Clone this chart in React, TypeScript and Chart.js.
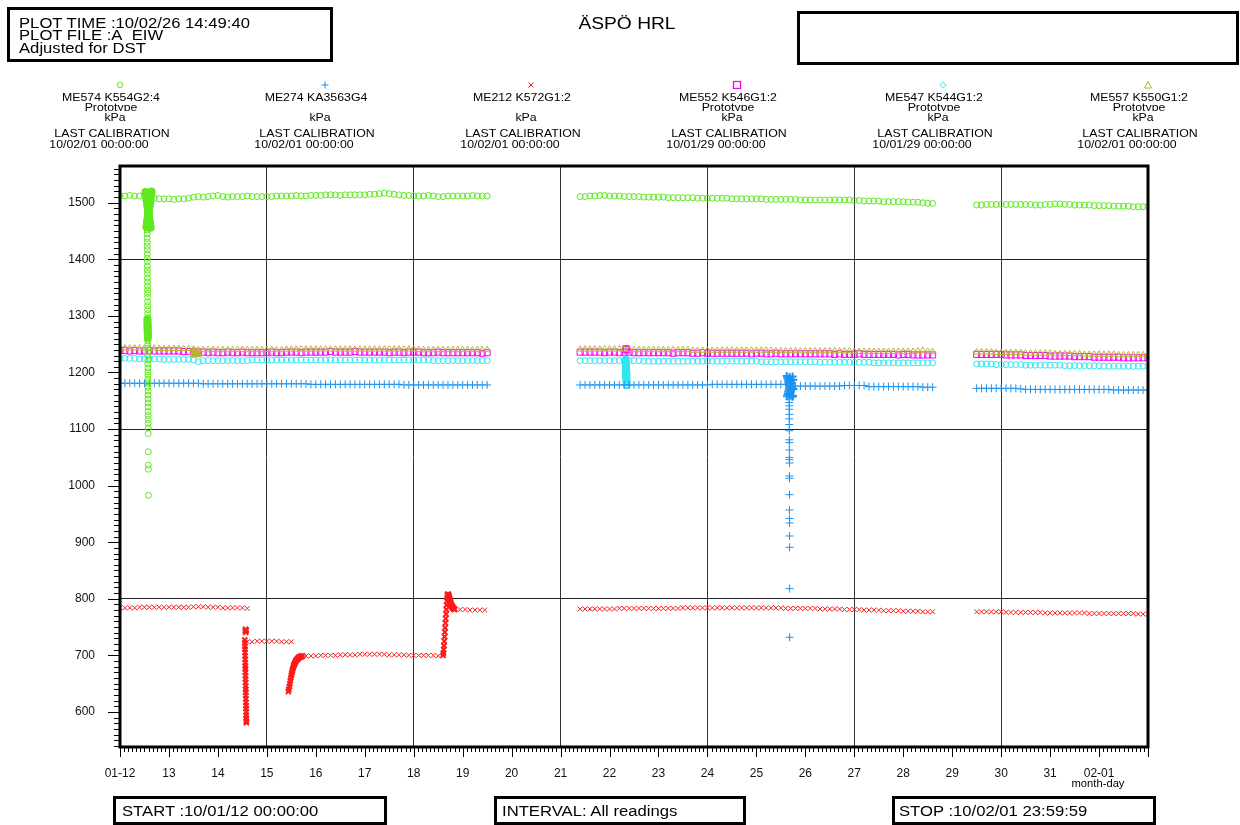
import React, { useEffect, useRef } from 'react';
import { Chart, registerables } from 'chart.js';

Chart.register(...registerables);

const FONT = '"Liberation Sans", Arial, Helvetica, sans-serif';

// ---------- axes (x = days after 10/01/12 00:00) ----------
const X_MIN = 0;
const X_MAX = 21;
const xTickDays = [0, 1, 2, 3, 4, 5, 6, 7, 8, 9, 10, 11, 12, 13, 14, 15, 16, 17, 18, 19, 20, 21];
const xTickLabels = ['01-12', '13', '14', '15', '16', '17', '18', '19', '20', '21', '22', '23', '24', '25', '26', '27', '28', '29', '30', '31', '02-01', ''];
const xGridDays = [3, 6, 9, 12, 15, 18];
const Y_MIN = 538;
const Y_MAX = 1565;
const yTickValues = [600, 700, 800, 900, 1000, 1100, 1200, 1300, 1400, 1500];
const yGridValues = [800, 1100, 1400];

// ---------- readings: segment start days and reading interval ----------
const STEP = 0.1;
const SEG_A = 0;
const SEG_B = 9.4;
const SEG_C = 17.5;

// ME574 K554G2:4 (green circles)
const greenSegA = [
  1512, 1512, 1513, 1512, 1512, 1514, 1513, 1508, 1507, 1507,
  1507, 1506, 1507, 1507, 1508, 1510, 1511, 1510, 1511, 1512,
  1513, 1511, 1510, 1511, 1511, 1511, 1512, 1511, 1511, 1511,
  1511, 1511, 1512, 1512, 1512, 1512, 1513, 1512, 1512, 1513,
  1513, 1513, 1514, 1514, 1514, 1513, 1514, 1514, 1514, 1514,
  1514, 1515, 1515, 1516, 1517, 1516, 1515, 1514, 1513, 1513,
  1512, 1512, 1512, 1513, 1512, 1511, 1511, 1512, 1512, 1512,
  1512, 1512, 1513, 1512, 1512, 1512,
];
const greenSpikeDown = [
  1519, 1516, 1513, 1510, 1507, 1504, 1501, 1498, 1495, 1492, 1489,
  1486, 1483, 1480, 1477, 1474, 1471, 1468, 1465, 1462, 1459, 1456,
];
const greenSpikeUp = [
  1457, 1460, 1463, 1466, 1469, 1472, 1475, 1478, 1481, 1484, 1487,
  1490, 1493, 1496, 1499, 1502, 1505, 1508, 1511, 1514, 1517, 1520,
];
const greenSpikeCluster = [1294, 1291, 1288, 1285, 1282, 1279, 1276, 1273, 1270, 1267, 1264, 1261];
const greenSpikeDrop = [
  1452, 1445, 1437, 1430, 1423, 1417, 1409, 1402, 1396, 1388, 1381, 1375, 1367, 1360, 1353, 1346,
  1340, 1333, 1325, 1318, 1311, 1304, 1297, 1256, 1249, 1243, 1236, 1229, 1222, 1215, 1208, 1201,
  1195, 1188, 1181, 1174, 1167, 1160, 1153, 1146, 1139, 1131, 1124, 1117, 1110, 1102, 1092, 1060,
  1036, 1029, 983,
];
const greenSegB = [
  1511, 1511, 1512, 1512, 1513, 1513, 1512, 1512, 1512, 1511,
  1511, 1511, 1511, 1510, 1510, 1510, 1510, 1510, 1509, 1509,
  1509, 1509, 1509, 1509, 1508, 1508, 1508, 1508, 1508, 1508,
  1508, 1507, 1507, 1507, 1507, 1507, 1507, 1507, 1506, 1506,
  1506, 1506, 1506, 1506, 1506, 1505, 1505, 1505, 1505, 1505,
  1505, 1505, 1505, 1505, 1505, 1505, 1504, 1504, 1503, 1503,
  1503, 1503, 1502, 1502, 1502, 1502, 1502, 1501, 1501, 1501,
  1500, 1499, 1499,
];
const greenSegC = [
  1496, 1496, 1497, 1497, 1497, 1497, 1497, 1497, 1497, 1497,
  1497, 1497, 1496, 1496, 1497, 1497, 1498, 1498, 1497, 1497,
  1496, 1496, 1496, 1496, 1495, 1495, 1495, 1495, 1494, 1494,
  1494, 1494, 1493, 1493, 1493, 1493,
];

// ME274 KA3563G4 (blue plus)
const blueSegA = [
  1181, 1181, 1181, 1181, 1181, 1181, 1181, 1181, 1181, 1181,
  1181, 1181, 1181, 1181, 1181, 1181, 1181, 1180, 1180, 1180,
  1180, 1180, 1180, 1180, 1180, 1180, 1180, 1180, 1180, 1180,
  1180, 1180, 1180, 1180, 1180, 1180, 1180, 1180, 1180, 1179,
  1179, 1179, 1179, 1179, 1179, 1179, 1179, 1179, 1179, 1179,
  1179, 1179, 1179, 1179, 1179, 1179, 1179, 1179, 1178, 1178,
  1178, 1178, 1178, 1178, 1178, 1178, 1178, 1178, 1178, 1178,
  1178, 1178, 1178, 1178, 1178, 1178,
];
const blueSegB = [
  1178, 1178, 1178, 1178, 1178, 1178, 1178, 1178, 1178, 1178,
  1178, 1178, 1178, 1178, 1178, 1178, 1178, 1178, 1178, 1178,
  1178, 1178, 1178, 1178, 1178, 1178, 1178, 1179, 1179, 1179,
  1179, 1179, 1179, 1179, 1179, 1179, 1179, 1179, 1179, 1179,
  1179, 1179, 1179, 1176, 1176, 1176, 1176, 1176, 1176, 1176,
  1176, 1176, 1176, 1176, 1177, 1177, 1177, 1177, 1177, 1175,
  1175, 1175, 1175, 1175, 1175, 1175, 1175, 1175, 1175, 1175,
  1174, 1174, 1174,
];
const blueSpikeCore = [
  1194, 1158, 1190, 1162, 1186, 1166, 1182, 1170, 1178, 1174, 1192, 1160,
  1188, 1164, 1184, 1168, 1180, 1172, 1176, 1157, 1193, 1159, 1187, 1171,
];
const blueSpikeTail = [
  1153, 1147, 1141, 1135, 1126, 1118, 1108, 1097, 1081, 1076, 1063, 1050,
  1046, 1040, 1017, 1013, 984, 957, 942, 934, 911, 891, 818, 732,
];
const blueSegC = [
  1172, 1172, 1172, 1172, 1172, 1172, 1172, 1172, 1172, 1171,
  1170, 1170, 1170, 1170, 1170, 1170, 1170, 1170, 1170, 1170,
  1170, 1170, 1170, 1170, 1170, 1170, 1170, 1170, 1169, 1169,
  1169, 1169, 1169, 1169, 1169, 1169,
];

// ME212 K572G1:2 (red x)
const redSegA = [
  784, 784, 784, 784, 785, 785, 785, 785, 785, 785,
  785, 785, 785, 785, 785, 786, 786, 786, 785, 785,
  785, 784, 784, 784, 784, 784, 783,
];
const redBlip = [743, 746, 741, 745, 744];
const redDrop = [
  727, 722, 716, 711, 705, 699, 693, 687, 681, 676, 670, 664, 658, 652,
  646, 640, 635, 629, 623, 617, 611, 606, 600, 594, 589, 584, 581,
];
const redStep = [724, 724, 725, 725, 725, 725, 725, 724, 724, 724];
const redRecovery = [
  636, 640, 645, 650, 655, 660, 665, 669, 673, 676, 679, 682, 684, 686, 688, 690,
  691, 692, 693, 694, 695, 696, 696, 697, 697, 698, 698, 698, 699, 699,
];
const redFlat = [
  699, 699, 699, 700, 700, 700, 700, 701, 701,
  701, 701, 702, 702, 702, 702, 702, 702, 701, 701,
  701, 701, 700, 700, 700, 700, 700, 700, 699,
];
const redSurge = [
  700, 704, 710, 717, 725, 733, 741, 749, 757, 765, 773, 781, 789, 796, 802, 806, 808, 808, 807, 806,
  804, 802, 800, 798, 796, 794, 792, 790, 789, 788, 787, 786, 785, 784, 784, 783, 783, 782, 782, 781,
];
const redSettle = [781, 781, 780, 780, 780, 780];
const redSegB = [
  782, 782, 782, 782, 782, 782, 782, 782, 783, 783,
  783, 783, 783, 783, 783, 783, 783, 783, 783, 783,
  783, 784, 784, 784, 784, 784, 784, 784, 784, 784,
  784, 784, 784, 784, 784, 784, 784, 784, 784, 784,
  784, 784, 783, 783, 783, 783, 783, 783, 783, 782,
  782, 782, 782, 782, 781, 781, 781, 781, 780, 780,
  780, 780, 779, 779, 779, 779, 778, 778, 778, 778,
  777, 777, 777,
];
const redSegC = [
  777, 777, 777, 777, 777, 777, 776, 776, 776, 776,
  776, 776, 776, 776, 775, 775, 775, 775, 775, 775,
  775, 775, 775, 774, 774, 774, 774, 774, 774, 774,
  774, 774, 774, 773, 773, 773,
];

// ME547 K544G1:2 (cyan)
const cyanSegA = [
  1225, 1225, 1225, 1225, 1224, 1224, 1224, 1224, 1224, 1223,
  1223, 1223, 1223, 1223, 1223, 1222, 1219, 1221, 1221, 1221,
  1221, 1221, 1221, 1221, 1221, 1221, 1221, 1222, 1222, 1222,
  1222, 1222, 1222, 1222, 1222, 1222, 1222, 1222, 1222, 1222,
  1222, 1222, 1222, 1222, 1222, 1222, 1222, 1222, 1222, 1222,
  1222, 1222, 1222, 1222, 1222, 1222, 1222, 1222, 1222, 1222,
  1222, 1222, 1222, 1222, 1221, 1221, 1221, 1221, 1221, 1221,
  1221, 1221, 1221, 1221, 1221, 1221,
];
const cyanSegB = [
  1221, 1221, 1221, 1221, 1221, 1221, 1221, 1221, 1221, 1221,
  1221, 1221, 1221, 1220, 1220, 1220, 1220, 1220, 1220, 1220,
  1220, 1220, 1220, 1220, 1220, 1220, 1220, 1220, 1220, 1220,
  1220, 1220, 1220, 1220, 1220, 1220, 1220, 1219, 1219, 1219,
  1219, 1219, 1219, 1219, 1219, 1219, 1219, 1219, 1219, 1218,
  1218, 1218, 1218, 1218, 1218, 1218, 1218, 1218, 1218, 1218,
  1217, 1217, 1217, 1217, 1217, 1217, 1217, 1217, 1217, 1217,
  1217, 1217, 1217,
];
const cyanSpike = [1223, 1220, 1217, 1214, 1211, 1208, 1205, 1202, 1199, 1196, 1193, 1190, 1194, 1198, 1187, 1183, 1178];
const cyanSegC = [
  1215, 1215, 1215, 1215, 1214, 1214, 1214, 1214, 1214, 1214,
  1213, 1213, 1213, 1213, 1213, 1213, 1213, 1213, 1212, 1212,
  1212, 1212, 1212, 1212, 1212, 1212, 1211, 1211, 1211, 1211,
  1211, 1211, 1211, 1211, 1211, 1211,
];

// ME552 K546G1:2 (magenta squares)
const magentaSegA = [
  1239, 1239, 1238, 1239, 1238, 1238, 1239, 1238, 1238, 1238,
  1238, 1238, 1238, 1237, 1237, 1237, 1236, 1236, 1235, 1236,
  1235, 1235, 1236, 1235, 1235, 1236, 1235, 1235, 1235, 1235,
  1235, 1236, 1235, 1235, 1236, 1236, 1236, 1235, 1236, 1236,
  1236, 1236, 1236, 1237, 1236, 1236, 1236, 1236, 1237, 1236,
  1236, 1236, 1236, 1236, 1236, 1235, 1236, 1236, 1235, 1236,
  1236, 1236, 1235, 1235, 1235, 1236, 1235, 1235, 1235, 1235,
  1235, 1235, 1235, 1235, 1234, 1235,
];
const magentaSegB = [
  1236, 1236, 1236, 1236, 1236, 1235, 1236, 1236, 1235, 1236,
  1236, 1235, 1235, 1235, 1235, 1235, 1235, 1235, 1235, 1234,
  1235, 1235, 1235, 1234, 1234, 1235, 1234, 1234, 1234, 1234,
  1234, 1234, 1234, 1234, 1234, 1233, 1234, 1234, 1233, 1233,
  1234, 1233, 1233, 1233, 1233, 1233, 1233, 1233, 1233, 1233,
  1233, 1233, 1232, 1233, 1232, 1232, 1232, 1233, 1232, 1232,
  1232, 1232, 1232, 1232, 1232, 1231, 1232, 1232, 1231, 1231,
  1231, 1231, 1231,
];
const magentaSpike = [1241, 1242, 1240];
const magentaSegC = [
  1232, 1232, 1232, 1232, 1232, 1232, 1231, 1231, 1231, 1231,
  1230, 1230, 1230, 1230, 1230, 1229, 1229, 1229, 1229, 1229,
  1228, 1228, 1228, 1228, 1227, 1227, 1227, 1227, 1227, 1227,
  1226, 1226, 1226, 1226, 1226, 1226,
];

// ME557 K550G1:2 (olive triangles)
const oliveSegA = [
  1243, 1243, 1243, 1243, 1243, 1243, 1243, 1243, 1242, 1242,
  1242, 1242, 1242, 1242, 1242, 1241, 1240, 1240, 1240, 1240,
  1240, 1240, 1240, 1240, 1240, 1240, 1240, 1240, 1240, 1240,
  1240, 1240, 1240, 1240, 1241, 1241, 1241, 1241, 1241, 1241,
  1241, 1241, 1241, 1241, 1241, 1241, 1241, 1241, 1241, 1241,
  1241, 1241, 1241, 1241, 1241, 1241, 1241, 1241, 1241, 1241,
  1241, 1240, 1240, 1240, 1240, 1240, 1240, 1240, 1240, 1240,
  1240, 1240, 1240, 1240, 1240, 1240,
];
const oliveCluster = [1236, 1234, 1233, 1235, 1234, 1233, 1232, 1235];
const oliveSegB = [
  1241, 1241, 1241, 1241, 1241, 1241, 1241, 1241, 1241, 1241,
  1240, 1240, 1240, 1240, 1240, 1240, 1240, 1240, 1240, 1240,
  1240, 1240, 1240, 1239, 1239, 1239, 1239, 1239, 1239, 1239,
  1239, 1239, 1239, 1239, 1239, 1239, 1239, 1239, 1239, 1239,
  1238, 1238, 1238, 1238, 1238, 1238, 1238, 1238, 1238, 1238,
  1238, 1238, 1238, 1238, 1238, 1238, 1237, 1237, 1237, 1237,
  1237, 1237, 1237, 1237, 1237, 1237, 1237, 1237, 1237, 1238,
  1239, 1237, 1237,
];
const oliveSegC = [
  1236, 1236, 1236, 1236, 1235, 1235, 1235, 1235, 1235, 1235,
  1234, 1234, 1234, 1234, 1234, 1234, 1233, 1233, 1233, 1233,
  1233, 1233, 1232, 1232, 1232, 1232, 1232, 1232, 1232, 1231,
  1231, 1231, 1231, 1231, 1231, 1231,
];

// ---------- legend texts ----------
const legendNames = ['ME574 K554G2:4', 'ME274 KA3563G4', 'ME212 K572G1:2', 'ME552 K546G1:2', 'ME547 K544G1:2', 'ME557 K550G1:2'];
const legendPrototype = [true, false, false, true, true, true];
const legendUnit = 'kPa';
const legendCalibration = ['10/02/01 00:00:00', '10/02/01 00:00:00', '10/02/01 00:00:00', '10/01/29 00:00:00', '10/01/29 00:00:00', '10/02/01 00:00:00'];

// ---------- helpers ----------
type P = { x: number; y: number };
function pts(t0: number, dt: number, values: number[]): P[] {
  return values.map((v, i) => ({ x: t0 + i * dt, y: v }));
}

const GREEN = '#5fe81e';
const BLUE = '#1c92f0';
const RED = '#ff1a1a';
const CYAN = '#2ee6f2';
const MAGENTA = '#ff00ff';
const OLIVE = '#b8b52a';

function ds(label: string, color: string, style: string, radius: number, width: number, data: P[]) {
  return {
    label,
    data,
    showLine: false,
    pointStyle: style,
    pointRadius: radius,
    pointBorderWidth: width,
    pointBorderColor: color,
    pointBackgroundColor: 'rgba(0,0,0,0)',
    borderColor: color,
    backgroundColor: 'rgba(0,0,0,0)',
  };
}

const framePlugin = {
  id: 'frameTicks',
  afterDraw(chart: any) {
    const { ctx, chartArea: a, scales } = chart;
    const xs = scales.x;
    const ys = scales.y;
    ctx.save();
    ctx.strokeStyle = '#000';
    ctx.lineWidth = 1;
    ctx.beginPath();
    for (let k = 0; k <= X_MAX * 12; k++) {
      const x = Math.round(xs.getPixelForValue(k / 12)) + 0.5;
      const len = k % 12 === 0 ? 10 : 5;
      ctx.moveTo(x, a.bottom);
      ctx.lineTo(x, a.bottom + len);
    }
    for (let v = 540; v <= 1560; v += 10) {
      const y = Math.round(ys.getPixelForValue(v)) + 0.5;
      const len = v % 100 === 0 ? 12 : 6;
      ctx.moveTo(a.left - len, y);
      ctx.lineTo(a.left, y);
    }
    ctx.stroke();
    ctx.lineWidth = 3;
    ctx.strokeRect(a.left, a.top, a.right - a.left, a.bottom - a.top);
    ctx.restore();
  },
};

function Txt(props: { x: number; y: number; size: number; sx: number; align?: 'center' | 'left'; clip?: number; children: any }) {
  const { x, y, size, sx, align = 'center', clip, children } = props;
  const style: React.CSSProperties = {
    position: 'absolute',
    left: x,
    top: y - size / 2,
    fontSize: size,
    lineHeight: `${size}px`,
    whiteSpace: 'nowrap',
    color: '#000',
    transform: align === 'center' ? `translateX(-50%) scaleX(${sx})` : `scaleX(${sx})`,
    transformOrigin: align === 'center' ? 'center center' : 'left center',
  };
  if (clip !== undefined) {
    style.height = clip;
    style.overflow = 'hidden';
  }
  return <div style={style}>{children}</div>;
}

function Box(props: { left: number; top: number; width: number; height: number }) {
  return (
    <div
      style={{
        position: 'absolute',
        left: props.left,
        top: props.top,
        width: props.width,
        height: props.height,
        border: '3px solid #000',
        boxSizing: 'border-box',
      }}
    />
  );
}

function Marker({ kind, x, y }: { kind: number; x: number; y: number }) {
  const s = 10;
  let shape: any = null;
  if (kind === 0) shape = <circle cx={5} cy={5} r={2.8} fill="none" stroke={GREEN} strokeWidth={1} />;
  if (kind === 1) shape = <path d="M5 1.5 V8.5 M1.5 5 H8.5" stroke={BLUE} strokeWidth={1} fill="none" />;
  if (kind === 2) shape = <path d="M2.5 2.5 L7.5 7.5 M7.5 2.5 L2.5 7.5" stroke={RED} strokeWidth={1} fill="none" />;
  if (kind === 3) shape = <rect x={1.5} y={1.5} width={7} height={7} fill="none" stroke={MAGENTA} strokeWidth={1.3} />;
  if (kind === 4) shape = <path d="M5 1.8 L8.2 5 L5 8.2 L1.8 5 Z" fill="none" stroke={CYAN} strokeWidth={1} />;
  if (kind === 5) shape = <path d="M5 1.5 L8.5 8 L1.5 8 Z" fill="none" stroke={OLIVE} strokeWidth={1} />;
  return (
    <svg width={s} height={s} style={{ position: 'absolute', left: x - s / 2, top: y - s / 2 }}>
      {shape}
    </svg>
  );
}

const legendMarkerX = [120, 325, 531, 737, 943, 1148];

export default function App() {
  const ref = useRef<HTMLCanvasElement>(null);

  useEffect(() => {
    if (!ref.current) return;
    Chart.defaults.font.family = FONT;
    const datasets = [
      ds('ME574 K554G2:4 dense', GREEN, 'circle', 3, 2, [
        ...pts(0.52, 0.005, greenSpikeDown),
        ...pts(0.54, 0.005, greenSpikeUp),
        ...pts(0.56, 0.0008, greenSpikeCluster),
      ]),
      ds('ME574 K554G2:4', GREEN, 'circle', 3, 1, [
        ...pts(SEG_A, STEP, greenSegA),
        ...pts(0.555, 0.0005, greenSpikeDrop),
        ...pts(SEG_B, STEP, greenSegB),
        ...pts(SEG_C, STEP, greenSegC),
      ]),
      ds('ME274 KA3563G4 dense', BLUE, 'cross', 4, 2, [...pts(13.62, 0.006, blueSpikeCore)]),
      ds('ME274 KA3563G4', BLUE, 'cross', 4, 1, [
        ...pts(SEG_A, STEP, blueSegA),
        ...pts(SEG_B, STEP, blueSegB),
        ...pts(13.67, 0.0004, blueSpikeTail),
        ...pts(SEG_C, STEP, blueSegC),
      ]),
      ds('ME212 K572G1:2 dense', RED, 'crossRot', 3.6, 2, [
        ...pts(2.56, 0.004, redBlip),
        ...pts(2.55, 0.0012, redDrop),
        ...pts(3.44, 0.01, redRecovery),
        ...pts(6.6, 0.006, redSurge),
      ]),
      ds('ME212 K572G1:2', RED, 'crossRot', 3.4, 1, [
        ...pts(SEG_A, STEP, redSegA),
        ...pts(2.6, STEP, redStep),
        ...pts(3.8, STEP, redFlat),
        ...pts(6.95, STEP, redSettle),
        ...pts(SEG_B, STEP, redSegB),
        ...pts(SEG_C, STEP, redSegC),
      ]),
      ds('ME547 K544G1:2 dense', CYAN, 'circle', 3, 2, [...pts(10.33, 0.0012, cyanSpike)]),
      ds('ME547 K544G1:2', CYAN, 'circle', 3, 1, [
        ...pts(SEG_A, STEP, cyanSegA),
        ...pts(SEG_B, STEP, cyanSegB),
        ...pts(SEG_C, STEP, cyanSegC),
      ]),
      ds('ME557 K550G1:2 dense', OLIVE, 'triangle', 3.8, 2, [...pts(1.52, 0.008, oliveCluster)]),
      ds('ME557 K550G1:2', OLIVE, 'triangle', 3.6, 1, [
        ...pts(SEG_A, STEP, oliveSegA),
        ...pts(SEG_B, STEP, oliveSegB),
        ...pts(SEG_C, STEP, oliveSegC),
      ]),
      ds('ME552 K546G1:2', MAGENTA, 'rect', 4.3, 1, [
        ...pts(SEG_A, STEP, magentaSegA),
        ...pts(SEG_B, STEP, magentaSegB),
        ...pts(10.33, 0.01, magentaSpike),
        ...pts(SEG_C, STEP, magentaSegC),
      ]),
    ];

    const chart = new Chart(ref.current, {
      type: 'scatter',
      data: { datasets } as any,
      options: {
        animation: false,
        responsive: false,
        devicePixelRatio: 1,
        events: [],
        layout: { padding: { left: 0, top: 166, right: 92, bottom: 0 } },
        plugins: { legend: { display: false }, tooltip: { enabled: false }, title: { display: false } },
        scales: {
          x: {
            type: 'linear',
            position: 'bottom',
            min: X_MIN,
            max: X_MAX,
            afterBuildTicks: (s: any) => {
              s.ticks = xTickDays.map((v) => ({ value: v }));
            },
            afterFit: (s: any) => {
              s.height = 78;
            },
            ticks: {
              autoSkip: false,
              maxRotation: 0,
              padding: 19,
              color: '#111',
              font: { family: FONT, size: 12 },
              callback: (_v: any, i: number) => xTickLabels[i],
            },
            grid: {
              drawTicks: false,
              lineWidth: 1,
              color: (c: any) => (c.tick && xGridDays.includes(c.tick.value) ? '#333' : 'rgba(0,0,0,0)'),
            },
            border: { display: false },
          },
          y: {
            type: 'linear',
            position: 'left',
            min: Y_MIN,
            max: Y_MAX,
            afterBuildTicks: (s: any) => {
              s.ticks = yTickValues.map((v) => ({ value: v }));
            },
            afterFit: (s: any) => {
              s.width = 120;
            },
            ticks: {
              padding: 25,
              color: '#111',
              font: { family: FONT, size: 12 },
              callback: (v: any) => String(v),
            },
            grid: {
              drawTicks: false,
              lineWidth: 1,
              color: (c: any) => (c.tick && yGridValues.includes(c.tick.value) ? '#222' : 'rgba(0,0,0,0)'),
            },
            border: { display: false },
          },
        },
      } as any,
      plugins: [framePlugin],
    });
    return () => chart.destroy();
  }, []);

  return (
    <div
      style={{
        position: 'absolute',
        left: 0,
        top: 0,
        width: 1240,
        height: 825,
        overflow: 'hidden',
        background: '#fff',
        fontFamily: FONT,
      }}
    >
      <canvas ref={ref} width={1240} height={825} style={{ position: 'absolute', left: 0, top: 0 }} />

      {/* header */}
      <Box left={7} top={7} width={326} height={55} />
      <Txt x={19} y={22.5} size={14} sx={1.19} align="left" clip={13}>PLOT TIME :10/02/26 14:49:40</Txt>
      <Txt x={19} y={35} size={14} sx={1.19} align="left" clip={12.5}>PLOT FILE :A_EIW</Txt>
      <Txt x={19} y={48} size={14} sx={1.19} align="left">Adjusted for DST</Txt>
      <Txt x={627} y={24} size={16} sx={1.2}>ÄSPÖ HRL</Txt>
      <Box left={797} top={11} width={442} height={54} />

      {/* legend */}
      {legendNames.map((name, i) => {
        const mx = legendMarkerX[i];
        return (
          <React.Fragment key={name}>
            <Marker kind={i} x={mx} y={85} />
            <Txt x={mx - 9} y={97.5} size={11} sx={1.12}>{name}</Txt>
            {legendPrototype[i] ? (
              <Txt x={mx - 9} y={107} size={11} sx={1.12} clip={9.6}>Prototype</Txt>
            ) : null}
            <Txt x={mx - 5} y={117} size={11} sx={1.12}>{legendUnit}</Txt>
            <Txt x={mx - 8} y={133} size={11} sx={1.12}>LAST CALIBRATION</Txt>
            <Txt x={mx - 21} y={144} size={11} sx={1.12}>{legendCalibration[i]}</Txt>
          </React.Fragment>
        );
      })}

      <Txt x={1098} y={784} size={10} sx={1.12}>month-day</Txt>

      {/* footer */}
      <Box left={113} top={796} width={274} height={29} />
      <Txt x={122} y={810.5} size={14} sx={1.19} align="left">START :10/01/12 00:00:00</Txt>
      <Box left={494} top={796} width={252} height={29} />
      <Txt x={502} y={810.5} size={14} sx={1.19} align="left">INTERVAL: All readings</Txt>
      <Box left={892} top={796} width={264} height={29} />
      <Txt x={899} y={810.5} size={14} sx={1.19} align="left">STOP :10/02/01 23:59:59</Txt>
    </div>
  );
}
